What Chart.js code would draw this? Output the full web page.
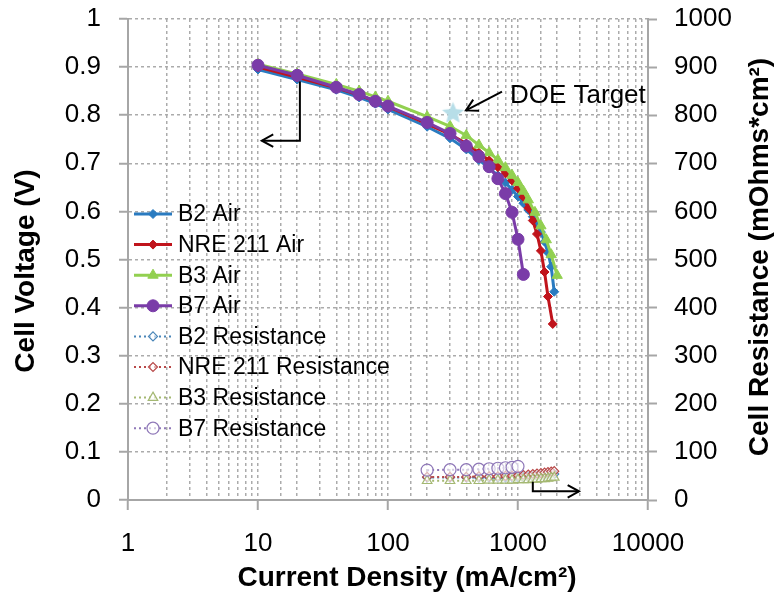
<!DOCTYPE html>
<html>
<head>
<meta charset="utf-8">
<script src="https://cdn.jsdelivr.net/npm/chart.js@4.4.1/dist/chart.umd.min.js"></script>
<style>
  html, body { margin: 0; padding: 0; background: #fff; }
  #wrap { width: 779px; height: 594px; }
</style>
</head>
<body>
<div id="wrap"><canvas id="chart" width="779" height="594"></canvas></div>
<script>
// polarization curves (mA/cm2 -> V)
const b2X = [10, 20, 40, 60, 80, 100, 200, 300, 400, 500, 600, 700, 800, 900, 1000, 1100, 1200, 1300, 1400, 1500, 1600, 1700, 1800, 1900];
const b2V = [0.895, 0.874, 0.853, 0.837, 0.824, 0.812, 0.776, 0.752, 0.729, 0.707, 0.690, 0.675, 0.660, 0.645, 0.631, 0.617, 0.603, 0.589, 0.574, 0.557, 0.537, 0.514, 0.485, 0.433];

const nreX = [10, 20, 40, 60, 80, 100, 200, 300, 400, 500, 600, 700, 800, 900, 1000, 1100, 1200, 1300, 1400, 1500, 1600, 1700, 1850];
const nreV = [0.900, 0.879, 0.857, 0.842, 0.829, 0.818, 0.782, 0.760, 0.741, 0.722, 0.706, 0.692, 0.679, 0.664, 0.648, 0.630, 0.607, 0.581, 0.553, 0.518, 0.474, 0.423, 0.366];

const b3X = [10, 20, 40, 60, 80, 100, 200, 300, 400, 500, 600, 700, 800, 900, 1000, 1100, 1200, 1350, 1500, 1650, 1800, 2000];
const b3V = [0.906, 0.886, 0.864, 0.850, 0.838, 0.829, 0.797, 0.777, 0.758, 0.738, 0.722, 0.707, 0.691, 0.675, 0.660, 0.642, 0.624, 0.598, 0.570, 0.541, 0.510, 0.467];

const b7X = [10, 20, 40, 60, 80, 100, 200, 300, 400, 500, 600, 700, 800, 900, 1000, 1100];
const b7V = [0.904, 0.883, 0.858, 0.843, 0.829, 0.819, 0.785, 0.762, 0.736, 0.714, 0.693, 0.668, 0.637, 0.598, 0.542, 0.469];

// cell resistance (mOhm*cm2), right axis
const resX = [200, 300, 400, 500, 600, 700, 800, 900, 1000, 1100, 1200, 1300, 1400, 1500, 1600, 1700, 1800, 1900];
const b2Res = [47, 47, 47, 47, 47, 47, 47, 48, 48, 48, 49, 49, 50, 50, 51, 52, 53, 54];
const nreRes = [48, 48, 48, 49, 49, 49, 50, 50, 51, 52, 53, 54, 55, 56, 57, 58, 59, 60];
const b3Res = [40, 40, 40, 40, 41, 41, 41, 41, 42, 42, 42, 43, 43, 44, 44, 45, 46, 47];
const b7ResX = [200, 300, 400, 500, 600, 700, 800, 900, 1000];
const b7Res = [62, 63, 63, 64, 65, 66, 67, 68, 70];

// DOE target point
const doeX = [316];
const doeV = [0.806];

// axis ticks
const xMajor = [1, 10, 100, 1000, 10000];

// annotation anchors (data units)
const leftArrowX = [21, 21, 10.7];
const leftArrowY = [0.87, 0.747, 0.747];
const rightArrowX = [1300, 1300, 2950];
const rightArrowR = [38, 18, 18];
const doeArrowX = [753, 398];
const doeArrowY = [0.849, 0.810];
const doeLabelX = 867;
const doeLabelY = 0.826;

const FONT = "'Liberation Sans', Arial, sans-serif";

const toPoints = (xs, ys) => xs.map((x, i) => ({ x, y: ys[i] }));

function makeStar(r, color) {
    const c = document.createElement('canvas');
    c.width = c.height = Math.ceil(r * 2 + 2);
    const g = c.getContext('2d');
    const cx = c.width / 2, cy = c.height / 2 + 1;
    g.beginPath();
    for (let i = 0; i < 10; i++) {
        const rad = i % 2 === 0 ? r : r * 0.45;
        const a = -Math.PI / 2 + i * Math.PI / 5;
        g.lineTo(cx + rad * Math.cos(a), cy + rad * Math.sin(a));
    }
    g.closePath();
    g.fillStyle = color;
    g.fill();
    return c;
}

const airLine = (label, xs, ys, color, style, radius, order) => ({
    label,
    data: toPoints(xs, ys),
    yAxisID: 'y',
    borderColor: color,
    backgroundColor: color,
    borderWidth: 3,
    pointStyle: style,
    pointRadius: radius,
    pointBorderWidth: 1,
    pointBackgroundColor: color,
    pointBorderColor: color,
    tension: 0,
    order,
});

const resLine = (label, xs, ys, color, style, radius, order) => ({
    label,
    data: toPoints(xs, ys),
    yAxisID: 'y1',
    borderColor: color,
    backgroundColor: '#fff',
    borderWidth: 2,
    borderDash: [2, 3],
    pointStyle: style,
    pointRadius: radius,
    pointBorderWidth: 1.2,
    pointBackgroundColor: 'rgba(255,255,255,0.6)',
    pointBorderColor: color,
    tension: 0,
    order,
});

const datasets = [
    airLine('B2 Air', b2X, b2V, '#2a7bc0', 'rectRot', 4.5, 4),
    airLine('NRE 211 Air', nreX, nreV, '#c0141c', 'rectRot', 4.5, 3),
    airLine('B3 Air', b3X, b3V, '#92d050', 'triangle', 6, 2),
    airLine('B7 Air', b7X, b7V, '#7a3ca8', 'circle', 6, 1),
    resLine('B2 Resistance', resX, b2Res, '#4a86b8', 'rectRot', 4.5, 8),
    resLine('NRE 211 Resistance', resX, nreRes, '#b84848', 'rectRot', 4.5, 7),
    resLine('B3 Resistance', resX, b3Res, '#a4b872', 'triangle', 5.5, 6),
    resLine('B7 Resistance', b7ResX, b7Res, '#8f78b8', 'circle', 6, 5),
    {
        label: 'DOE Target',
        data: toPoints(doeX, doeV),
        yAxisID: 'y',
        showLine: false,
        pointStyle: makeStar(11.5, '#b7dee8'),
        pointRadius: 11,
        order: 0,
    },
];

const gridColor = '#ababab';
const axisColor = '#a6a6a6';

function arrowHead(ctx, fx, fy, tx, ty, len) {
    const a = Math.atan2(ty - fy, tx - fx);
    ctx.beginPath();
    ctx.moveTo(tx - len * Math.cos(a - 0.5), ty - len * Math.sin(a - 0.5));
    ctx.lineTo(tx, ty);
    ctx.lineTo(tx - len * Math.cos(a + 0.5), ty - len * Math.sin(a + 0.5));
    ctx.stroke();
}

function polyArrow(ctx, pts) {
    ctx.beginPath();
    pts.forEach(([px, py], i) => (i === 0 ? ctx.moveTo(px, py) : ctx.lineTo(px, py)));
    ctx.stroke();
    const n = pts.length;
    arrowHead(ctx, pts[n - 2][0], pts[n - 2][1], pts[n - 1][0], pts[n - 1][1], 13);
}

const extrasPlugin = {
    id: 'extras',
    afterDatasetsDraw(chart) {
        const { ctx, scales: { x, y, y1 } } = chart;
        ctx.save();
        ctx.strokeStyle = '#000';
        ctx.lineWidth = 2;
        polyArrow(ctx, leftArrowX.map((v, i) => [x.getPixelForValue(v), y.getPixelForValue(leftArrowY[i])]));
        polyArrow(ctx, rightArrowX.map((v, i) => [x.getPixelForValue(v), y1.getPixelForValue(rightArrowR[i])]));
        polyArrow(ctx, doeArrowX.map((v, i) => [x.getPixelForValue(v), y.getPixelForValue(doeArrowY[i])]));
        ctx.fillStyle = '#000';
        ctx.font = `26px ${FONT}`;
        ctx.textBaseline = 'alphabetic';
        ctx.fillText('DOE Target', x.getPixelForValue(doeLabelX), y.getPixelForValue(doeLabelY));
        ctx.restore();
    },
    afterDraw(chart) {
        const { ctx, chartArea } = chart;
        ctx.save();
        // legend inside the plot, left side
        const left = chartArea.left + 6;
        const top = chartArea.top + 195;
        const rowH = 30.6;
        ctx.font = `23px ${FONT}`;
        ctx.textBaseline = 'middle';
        chart.data.datasets.slice(0, 8).forEach((ds, i) => {
            const cy = top + i * rowH;
            ctx.strokeStyle = ds.borderColor;
            ctx.lineWidth = ds.borderWidth;
            ctx.setLineDash(ds.borderDash || []);
            ctx.beginPath();
            ctx.moveTo(left, cy);
            ctx.lineTo(left + 38, cy);
            ctx.stroke();
            ctx.setLineDash([]);
            ctx.fillStyle = ds.pointBackgroundColor;
            ctx.strokeStyle = ds.pointBorderColor;
            ctx.lineWidth = ds.pointBorderWidth;
            Chart.helpers.drawPoint(ctx, { pointStyle: ds.pointStyle, radius: ds.pointRadius, rotation: 0, borderWidth: ds.pointBorderWidth }, left + 19, cy);
            ctx.fillStyle = '#000';
            ctx.fillText(ds.label, left + 44, cy + 1);
        });

        // axis titles
        ctx.font = `bold 28px ${FONT}`;
        ctx.textAlign = 'center';
        ctx.textBaseline = 'middle';
        ctx.fillText('Current Density (mA/cm\u00b2)', 407, 578);
        ctx.save();
        ctx.translate(26, 271);
        ctx.rotate(-Math.PI / 2);
        ctx.fillText('Cell Voltage (V)', 0, 0);
        ctx.restore();
        ctx.save();
        ctx.translate(760, 257);
        ctx.rotate(-Math.PI / 2);
        ctx.fillText('Cell Resistance (mOhms*cm\u00b2)', 0, 0);
        ctx.restore();
        ctx.restore();
    },
};

const tickFont = { family: FONT, size: 26 };

// fixed plot box: the axes reserve exact widths and no extra label padding
const fitSide = (w) => (scale) => {
    scale.width = w;
    scale.paddingTop = 0;
    scale.paddingBottom = 0;
};

new Chart(document.getElementById('chart'), {
    type: 'line',
    data: { datasets },
    options: {
        responsive: false,
        animation: false,
        devicePixelRatio: 1,
        layout: { padding: { top: 19, right: 0, bottom: 0, left: 0 } },
        plugins: {
            legend: { display: false },
            tooltip: { enabled: false },
        },
        scales: {
            x: {
                type: 'logarithmic',
                min: 1,
                max: 10000,
                afterFit: (scale) => { scale.height = 94; scale.paddingLeft = 0; scale.paddingRight = 0; },
                border: { color: axisColor, width: 2, dash: [3, 3] },
                grid: {
                    color: gridColor,
                    lineWidth: 1.5,
                    tickLength: 10,
                    tickBorderDash: [],
                    tickWidth: 2,
                    tickColor: (ctx) => (ctx.tick && xMajor.includes(ctx.tick.value) ? axisColor : 'rgba(0,0,0,0)'),
                },
                ticks: {
                    autoSkip: false,
                    maxRotation: 0,
                    padding: 18,
                    color: '#000',
                    font: tickFont,
                    callback: (value) => (xMajor.includes(value) ? String(value) : ''),
                },
            },
            y: {
                position: 'left',
                min: 0,
                max: 1,
                afterFit: fitSide(128),
                border: { color: axisColor, width: 2, dash: [3, 3] },
                grid: {
                    color: gridColor,
                    lineWidth: 1.5,
                    tickLength: 9,
                    tickBorderDash: [],
                    tickWidth: 2,
                    tickColor: axisColor,
                },
                ticks: {
                    stepSize: 0.1,
                    padding: 18,
                    color: '#000',
                    font: tickFont,
                    callback: (value) => String(Number(value.toFixed(1))),
                },
            },
            y1: {
                position: 'right',
                min: 0,
                max: 1000,
                afterFit: fitSide(131),
                border: { color: axisColor, width: 2 },
                grid: {
                    drawOnChartArea: false,
                    tickLength: 9,
                    tickWidth: 2,
                    tickColor: axisColor,
                },
                ticks: {
                    stepSize: 100,
                    padding: 17,
                    color: '#000',
                    font: tickFont,
                    callback: (value) => String(value),
                },
            },
        },
    },
    plugins: [extrasPlugin],
});
</script>
</body>
</html>
